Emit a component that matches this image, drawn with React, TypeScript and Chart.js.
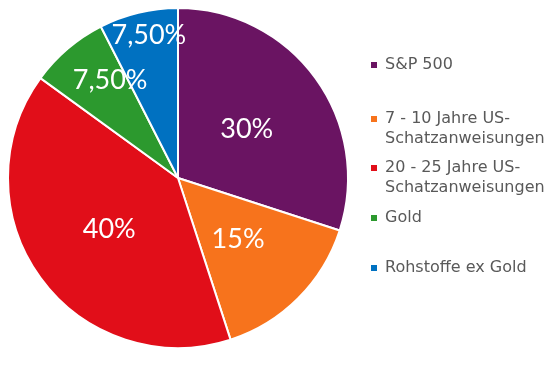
import React, { useEffect, useRef } from "react";
import { Chart, registerables } from "chart.js";

Chart.register(...registerables);

const categories: string[][] = [
  ["S&P 500"],
  ["7 - 10 Jahre US-", "Schatzanweisungen"],
  ["20 - 25 Jahre US-", "Schatzanweisungen"],
  ["Gold"],
  ["Rohstoffe ex Gold"],
];
const values = [30, 15, 40, 7.5, 7.5];
const valueLabels = ["30%", "15%", "40%", "7,50%", "7,50%"];
const colors = ["#6A1462", "#F7731C", "#E10E19", "#2C992E", "#0071C1"];
const legendRowY = [65, 119, 168, 218, 268];

// label placement: fraction of radius and angle shift (degrees) per slice
const labelPlacement = [
  { r: 0.5, da: 0 },
  { r: 0.5, da: 0 },
  { r: 0.5, da: 0 },
  { r: 0.705, da: 6 },
  { r: 0.86, da: 2 },
];

const labelPlugin = {
  id: "sliceLabels",
  afterDatasetsDraw(chart: any) {
    const ctx = chart.ctx;
    const meta = chart.getDatasetMeta(0);
    const fontSize = 27;
    ctx.save();
    ctx.fillStyle = "#ffffff";
    ctx.font = `${fontSize}px Lato`;
    ctx.textAlign = "center";
    ctx.textBaseline = "alphabetic";
    meta.data.forEach((arc: any, i: number) => {
      const { x, y, startAngle, endAngle, outerRadius } = arc.getProps(
        ["x", "y", "startAngle", "endAngle", "outerRadius"],
        true
      );
      const p = labelPlacement[i];
      const mid = (startAngle + endAngle) / 2 + (p.da * Math.PI) / 180;
      const cx = x + Math.cos(mid) * outerRadius * p.r;
      const cy = y + Math.sin(mid) * outerRadius * p.r;
      ctx.fillText(valueLabels[i], cx, cy + fontSize * 0.36);
    });
    ctx.restore();
  },
};

const legendPlugin = {
  id: "customLegend",
  afterDraw(chart: any) {
    const ctx = chart.ctx;
    ctx.save();
    ctx.font = "16px 'DejaVu Sans'";
    ctx.textBaseline = "middle";
    ctx.textAlign = "left";
    categories.forEach((lines, i) => {
      const y0 = legendRowY[i];
      ctx.fillStyle = colors[i];
      ctx.fillRect(371, y0 - 3, 6, 6);
      ctx.fillStyle = "#595959";
      lines.forEach((t, j) => {
        ctx.fillText(t, 385, y0 + j * 19.5);
      });
    });
    ctx.restore();
  },
};

export default function App() {
  const ref = useRef<HTMLCanvasElement>(null);
  useEffect(() => {
    document.body.style.margin = "0";
    const chart = new Chart(ref.current as HTMLCanvasElement, {
      type: "pie",
      data: {
        labels: categories.map((c) => c.join(" ")),
        datasets: [
          {
            data: values,
            backgroundColor: colors,
            borderColor: "#ffffff",
            borderWidth: 2,
          },
        ],
      },
      options: {
        animation: false,
        responsive: false,
        layout: { padding: { left: 7, top: 7, right: 206, bottom: 20 } },
        plugins: {
          legend: { display: false },
          tooltip: { enabled: false },
        },
      },
      plugins: [labelPlugin, legendPlugin],
    });
    return () => chart.destroy();
  }, []);
  return (
    <div style={{ width: 555, height: 369 }}>
      <canvas ref={ref} width={555} height={369} />
    </div>
  );
}
